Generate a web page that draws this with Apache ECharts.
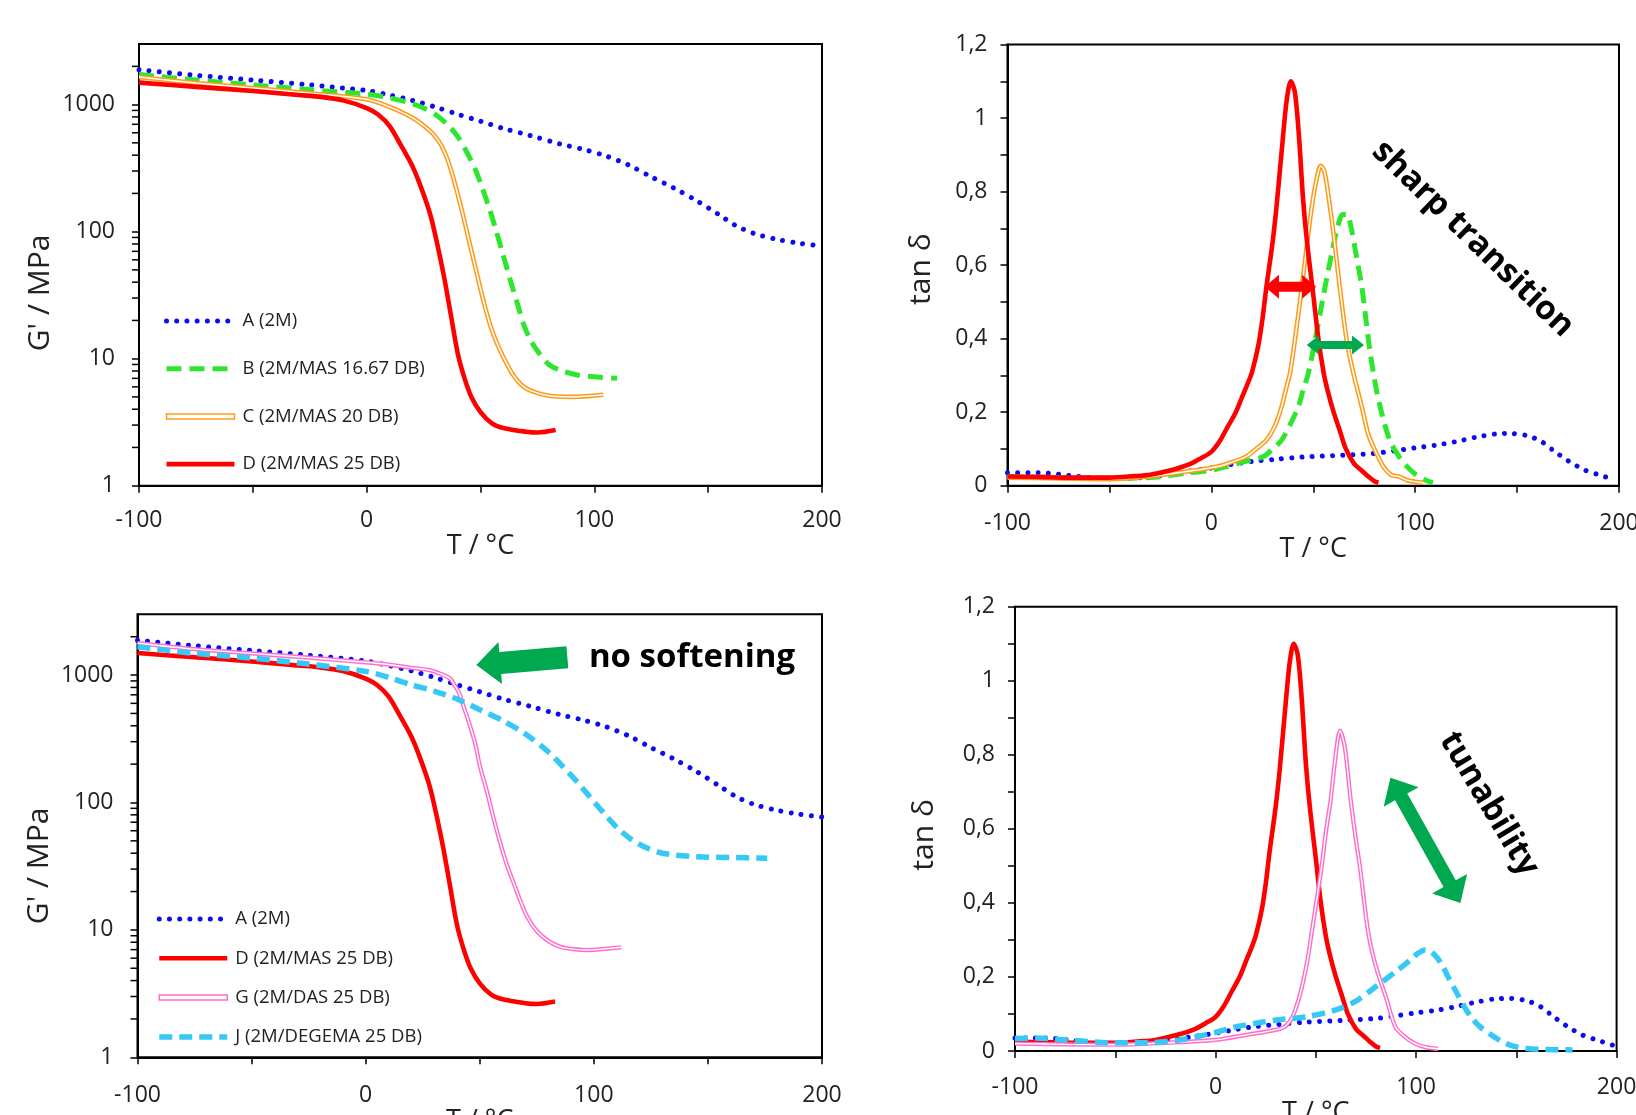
<!DOCTYPE html>
<html><head><meta charset="utf-8">
<script src="https://cdn.jsdelivr.net/npm/echarts@6/dist/echarts.min.js"></script>
<style>html,body{margin:0;padding:0;background:#fff}#c{width:1636px;height:1115px}</style>
</head><body><div id="c"></div>
<script>
// ---------- DATA (temperature °C, value) ----------
// Storage modulus G' / MPa
const gA = [[-100,1880],[-75,1700],[-50,1560],[-25,1430],[0,1290],[10,1190],[20,1080],[30,960],[40,840],[50,740],[60,650],[72,570],[85,490],[95,445],[105,395],[115,335],[125,270],[135,220],[145,175],[155,135],[162,112],[170,97],[180,87],[190,81],[200,77]];
const gB = [[-100,1730],[-75,1560],[-50,1430],[-25,1310],[0,1210],[10,1130],[20,1020],[25,940],[30,840],[35,710],[40,560],[45,390],[48,300],[51,215],[54,150],[57,100],[60,65],[63,42],[66,28],[69,18.5],[72,14],[75,11.5],[80,9],[85,8.1],[93,7.4],[100,7.2],[110,7.0]];
const gC = [[-100,1650],[-75,1480],[-50,1350],[-25,1230],[0,1100],[10,960],[20,790],[27,640],[30,565],[33,470],[36,350],[39,230],[42,142],[45,84],[48,50],[51,30],[54,19],[57,13.5],[60,10.3],[64,7.6],[68,6.2],[72,5.6],[80,5.1],[90,5.0],[104,5.2]];
const gD = [[-100,1490],[-75,1380],[-50,1280],[-30,1190],[-20,1150],[-10,1075],[0,940],[5,835],[10,680],[15,480],[20,330],[24,220],[28,135],[31,80],[34,44],[37,22],[40,11],[43,7],[46,5],[50,3.8],[55,3.1],[60,2.85],[70,2.66],[75,2.62],[83,2.74]];
const gG = [[-100,1780],[-75,1600],[-50,1480],[-25,1370],[0,1260],[10,1210],[20,1140],[28,1095],[33,1020],[37,940],[39,830],[41,720],[43,560],[45,440],[48,290],[50,195],[53,125],[56,76],[59,48],[62,32],[65,23],[68,16.5],[71,12.5],[75,9.8],[80,8.2],[85,7.4],[90,7.1],[97,6.95],[105,7.1],[112,7.3]];
const gJ = [[-100,1670],[-75,1480],[-50,1360],[-25,1220],[0,1070],[10,960],[20,840],[30,750],[40,650],[50,535],[60,440],[70,345],[80,250],[86,195],[92,150],[98,112],[104,84],[110,64],[116,52],[122,45],[130,40],[145,37.5],[160,37],[176,36.5]];
// Loss factor tan delta
const tA = [[-100,0.035],[-85,0.035],[-70,0.028],[-55,0.02],[-40,0.02],[-25,0.028],[-10,0.04],[0,0.048],[10,0.058],[20,0.066],[32,0.072],[45,0.078],[65,0.083],[80,0.088],[90,0.095],[100,0.103],[110,0.11],[120,0.12],[130,0.132],[140,0.141],[147,0.142],[155,0.136],[162,0.12],[168,0.095],[175,0.068],[183,0.043],[190,0.03],[198,0.016]];
const tB = [[-100,0.025],[-75,0.022],[-50,0.02],[-30,0.022],[-12,0.034],[0,0.042],[7.6,0.052],[15,0.064],[25.5,0.079],[30,0.1],[34.5,0.124],[39,0.17],[42.7,0.215],[45,0.26],[47.6,0.306],[50.9,0.396],[55.8,0.541],[59,0.63],[62,0.705],[64.5,0.738],[66.5,0.738],[68.5,0.705],[70.5,0.645],[73.8,0.541],[77.1,0.396],[79.5,0.306],[82.8,0.215],[87.5,0.124],[92,0.08],[96,0.052],[100,0.032],[104.8,0.016],[108.7,0.008]];
const tC = [[-100,0.022],[-75,0.02],[-50,0.018],[-30,0.025],[-18,0.034],[-5,0.044],[3,0.052],[10,0.064],[17,0.079],[22,0.1],[27,0.124],[31,0.16],[34.5,0.215],[36.5,0.26],[38.6,0.306],[41,0.396],[44.4,0.541],[47,0.66],[49.3,0.759],[51.5,0.83],[53.7,0.87],[55.5,0.855],[58.2,0.759],[60.5,0.66],[63,0.541],[66.4,0.396],[69.7,0.306],[73.8,0.215],[77,0.14],[80,0.1],[84.4,0.052],[88.3,0.029],[92,0.025],[96,0.015],[100,0.011],[104,0.008]];
const tD = [[-100,0.025],[-85,0.024],[-70,0.022],[-50,0.022],[-38,0.026],[-30,0.03],[-18,0.045],[-10,0.06],[-5,0.075],[0,0.092],[4,0.12],[8,0.16],[12,0.2],[15,0.24],[18,0.28],[20,0.31],[23,0.38],[25,0.45],[27,0.54],[30,0.66],[32,0.76],[35,0.94],[37,1.05],[39,1.1],[41,1.07],[43,0.95],[45,0.78],[47,0.66],[50,0.52],[52.5,0.4],[55,0.31],[57,0.26],[60,0.2],[63,0.15],[66,0.1],[70,0.06],[74,0.04],[77,0.025],[80,0.012],[82,0.008]];
const tG = [[-100,0.02],[-75,0.018],[-50,0.017],[-25,0.022],[0,0.03],[17,0.045],[28,0.055],[34,0.064],[37,0.08],[39,0.1],[41.5,0.14],[43.5,0.183],[46,0.25],[47.9,0.318],[50.5,0.41],[52.9,0.498],[55,0.59],[57.4,0.678],[59.5,0.78],[62.1,0.865],[64.5,0.82],[67.4,0.678],[70,0.57],[72,0.498],[76.2,0.318],[80,0.228],[85.4,0.138],[89.6,0.066],[94,0.04],[99.5,0.02],[105,0.01],[111,0.006]];
const tJ = [[-100,0.034],[-90,0.035],[-75,0.03],[-50,0.022],[-35,0.022],[-20,0.028],[-10,0.038],[0,0.05],[10,0.065],[20,0.075],[30.5,0.084],[45,0.092],[60,0.111],[70,0.135],[80,0.174],[90,0.215],[97,0.245],[101,0.264],[104.5,0.273],[107.5,0.268],[110.5,0.252],[113,0.232],[116,0.2],[120,0.16],[124,0.12],[128,0.088],[132,0.065],[137,0.045],[142,0.028],[148,0.014],[155,0.007],[165,0.004],[178,0.003]];
// Annotation arrows [x1, y1, x2, y2] in data units
const arrowRedTop   = [[26.3,0.541,51.4,0.541]];
const arrowGreenTop = [[46.8,0.383,74.9,0.383]];
const arrowTunable  = [[87.2,0.738,122.1,0.40]];
const arrowSoft     = [[88.4,1380,48.5,1200]];
// Tick labels
const xLabelValues = [-100,0,100,200];
const logLabelValues = [1,10,100,1000];
const logMinorTicks = [2,3,4,5,6,7,8,9,20,30,40,50,60,70,80,90,200,300,400,500,600,700,800,900,2000];
const tanLabelValues = [0,0.2,0.4,0.6,0.8,1,1.2];
const tanLabels = ['0','0,2','0,4','0,6','0,8','1','1,2'];
const names = {A:'A (2M)',B:'B (2M/MAS 16.67 DB)',C:'C (2M/MAS 20 DB)',D:'D (2M/MAS 25 DB)',G:'G (2M/DAS 25 DB)',J:'J (2M/DEGEMA 25 DB)'};

// ---------- STYLE ----------
const FONT = 'Open Sans';
const ST = {
  A:{color:'#0c0cf0',width:5,type:[0.01,10.2],cap:'round'},
  B:{color:'#2fe62f',width:5,type:[15,8]},
  C:{color:'#ff9a1a',width:4.6,inner:1.5},
  D:{color:'#ff0000',width:4.6},
  G:{color:'#ff6ccc',width:4.3,inner:1.4},
  J:{color:'#36c9f5',width:5.5,type:[13,7]}
};
const grids = [
  {left:139, top:44, width:683, height:441.7},
  {left:1007.5, top:44.6, width:611.5, height:441.1},
  {left:137.5, top:614.3, width:684.5, height:443},
  {left:1015, top:606.7, width:601.6, height:444.3}
];

function lines(key, data, gi){
  const s = ST[key];
  const out = [{
    type:'line', name:names[key], data:data, xAxisIndex:gi, yAxisIndex:gi,
    symbol:'none', smooth:0.3, color:s.color,
    lineStyle:{color:s.color, width:s.width, type:s.type||'solid', cap:s.cap||'butt', join:'round'},
    z:2
  }];
  if (s.inner) out.push({
    type:'line', name:key+'-inner', data:data, xAxisIndex:gi, yAxisIndex:gi,
    symbol:'none', smooth:0.3, color:'#fff',
    lineStyle:{color:'#fff', width:s.inner}, z:2
  });
  return out;
}
function arrowSeries(data, gi, cfg){
  return {type:'custom', data:data, xAxisIndex:gi, yAxisIndex:gi, silent:true, z:5,
    renderItem:function(params, api){
      const a = api.coord([api.value(0), api.value(1)]);
      const b = api.coord([api.value(2), api.value(3)]);
      const dx=b[0]-a[0], dy=b[1]-a[1], L=Math.hypot(dx,dy);
      const ux=dx/L, uy=dy/L, nx=-uy, ny=ux;
      const sw=cfg.shaft/2, hw=cfg.head/2, hl=cfg.headLen;
      const P=(t,s)=>[a[0]+ux*t+nx*s, a[1]+uy*t+ny*s];
      let pts;
      if (cfg.double) pts=[P(0,0),P(hl,hw),P(hl,sw),P(L-hl,sw),P(L-hl,hw),P(L,0),P(L-hl,-hw),P(L-hl,-sw),P(hl,-sw),P(hl,-hw)];
      else pts=[P(0,sw),P(L-hl,sw),P(L-hl,hw),P(L,0),P(L-hl,-hw),P(L-hl,-sw),P(0,-sw)];
      return {type:'polygon', shape:{points:pts}, style:{fill:cfg.color}};
    }};
}
function minorTickSeries(gi){
  return {type:'custom', data:logMinorTicks.map(v=>[-100,v]), xAxisIndex:gi, yAxisIndex:gi, silent:true, z:6, clip:false,
    renderItem:function(params, api){
      const p = api.coord([api.value(0), api.value(1)]);
      return {type:'line', shape:{x1:p[0]-7, y1:p[1], x2:p[0], y2:p[1]}, style:{stroke:'#000', lineWidth:1.5}};
    }};
}

const axisCommon = {
  axisLine:{show:true, onZero:false, lineStyle:{color:'#000', width:2}},
  axisTick:{show:true, inside:false, length:7, lineStyle:{color:'#000', width:1.5}},
  splitLine:{show:false}
};
const xNameGaps = [40, 48, 38, 44];
const xLabelMargins = [23, 26, 27, 25];
const xAxes = grids.map((g,i)=>Object.assign({}, axisCommon, {
  type:'value', gridIndex:i, min:-100, max:200, interval:50,
  name:'T / °C', nameLocation:'middle', nameGap:xNameGaps[i],
  nameTextStyle:{fontSize:27, fontFamily:FONT, color:'#222'},
  axisLabel:{fontSize:23, fontFamily:FONT, color:'#222', margin:xLabelMargins[i],
    formatter:v=>xLabelValues.indexOf(v)>=0?String(v):''}
}));
function logAxis(i, gap, shift){
  return Object.assign({}, axisCommon, {
    type:'log', logBase:10, gridIndex:i, min:1, max:3000,
    name:"G' / MPa", nameLocation:'middle', nameGap:gap, nameRotate:90,
    nameTextStyle:{fontSize:30, fontFamily:FONT, color:'#222', padding:[0,shift*2,0,0]},
    axisLabel:{fontSize:23, fontFamily:FONT, color:'#222', margin:24, showMaxLabel:false,
      formatter:v=>{const r=Math.round(v); return logLabelValues.indexOf(r)>=0?String(r):'';}}
  });
}
function tanAxis(i, gap, shift){
  return Object.assign({}, axisCommon, {
    type:'value', gridIndex:i, min:0, max:1.2, interval:0.1,
    name:'tan δ', nameLocation:'middle', nameGap:gap, nameRotate:90,
    nameTextStyle:{fontSize:30, fontFamily:FONT, color:'#222', padding:[0,shift*2,0,0]},
    axisLabel:{fontSize:23, fontFamily:FONT, color:'#222', margin:20,
      formatter:v=>{const k=tanLabelValues.findIndex(t=>Math.abs(t-v)<1e-6); return k>=0?tanLabels[k]:'';}}
  });
}
const yAxes = [logAxis(0,84,28), tanAxis(1,71,4), logAxis(2,83,30), tanAxis(3,76,6)];

const legendText = {fontSize:18.5, fontFamily:FONT, color:'#222', lineHeight:20, padding:[0,0,0,3]};
function legendItem(key){
  const s = ST[key];
  if (s.inner) return {name:names[key], icon:'path://M0,0L68,0L68,5L0,5Z',
    itemStyle:{color:'#fff', borderColor:s.color, borderWidth:1.5, opacity:1}};
  return {name:names[key], itemStyle:{opacity:0},
    lineStyle:{color:s.color, width:s.width, type:s.type||'solid', cap:s.cap||'butt'}};
}

const series = [].concat(
  lines('A',gA,0), lines('B',gB,0), lines('C',gC,0), lines('D',gD,0), [minorTickSeries(0)],
  lines('A',tA,1), lines('B',tB,1), lines('C',tC,1), lines('D',tD,1),
  [arrowSeries(arrowRedTop,1,{shaft:10,head:24,headLen:14,double:true,color:'#ff0000'}),
   arrowSeries(arrowGreenTop,1,{shaft:8,head:19,headLen:12,double:true,color:'#00a84f'})],
  lines('A',gA,2), lines('D',gD,2), lines('G',gG,2), lines('J',gJ,2), [minorTickSeries(2)],
  [arrowSeries(arrowSoft,2,{shaft:22,head:42,headLen:24,double:false,color:'#00a84f'})],
  lines('A',tA,3), lines('D',tD,3), lines('G',tG,3), lines('J',tJ,3),
  [arrowSeries(arrowTunable,3,{shaft:14,head:40,headLen:22,double:true,color:'#00a84f'})]
);

const option = {
  animation:false,
  backgroundColor:'#fff',
  textStyle:{fontFamily:FONT},
  grid: grids.map(g=>Object.assign({show:true, borderColor:'#000', borderWidth:2, backgroundColor:'transparent',
    containLabel:false, outerBoundsMode:'none'}, g)),
  xAxis: xAxes,
  yAxis: yAxes,
  legend:[
    {orient:'vertical', left:159, top:306, itemWidth:68, itemHeight:14, itemGap:27.7, textStyle:legendText,
      selectedMode:false, data:['A','B','C','D'].map(legendItem)},
    {orient:'vertical', left:151.5, top:904, itemWidth:68, itemHeight:14, itemGap:19.3, textStyle:legendText,
      selectedMode:false, data:['A','D','G','J'].map(legendItem)}
  ],
  graphic:[
    {type:'text', x:1473, y:239, rotation:-0.77, z:10,
      style:{text:'sharp transition', fontSize:33, fontWeight:'bold', fontFamily:FONT, fill:'#000', textAlign:'center', textVerticalAlign:'middle'}},
    {type:'text', x:692, y:658, z:10,
      style:{text:'no softening', fontSize:33, fontWeight:'bold', fontFamily:FONT, fill:'#000', textAlign:'center', textVerticalAlign:'middle'}},
    {type:'text', x:1489, y:804, rotation:-1.03, z:10,
      style:{text:'tunability', fontSize:33, fontWeight:'bold', fontFamily:FONT, fill:'#000', textAlign:'center', textVerticalAlign:'middle'}}
  ],
  series: series
};
const chart = echarts.init(document.getElementById('c'), null, {renderer:'canvas'});
chart.setOption(option);
</script></body></html>
